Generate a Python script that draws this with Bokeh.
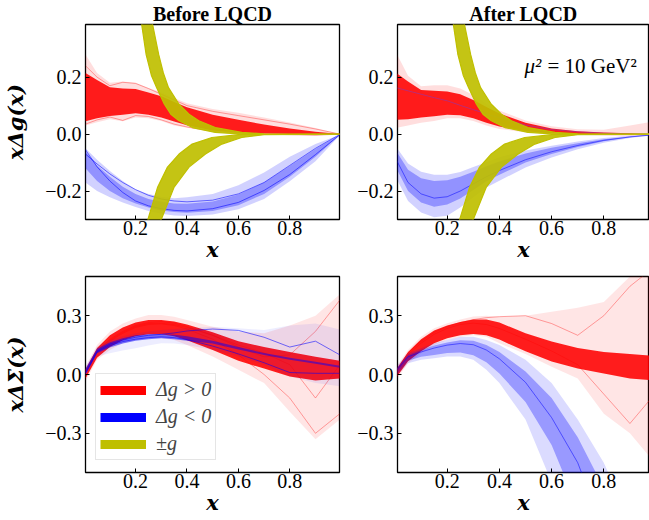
from bokeh.plotting import figure
from bokeh.layouts import column, row
from bokeh.models import Range1d, FixedTicker, Label, Legend, LegendItem
from bokeh.embed import file_html
from bokeh.resources import INLINE

# ---------------- data ----------------
X = [0.005, 0.05, 0.1, 0.15, 0.2, 0.25, 0.3, 0.35, 0.4, 0.5, 0.6, 0.7, 0.8, 0.9, 0.995]
X_TICKS = [0.2, 0.4, 0.6, 0.8]
TOP_Y_TICKS = [-0.2, 0.0, 0.2]
BOT_Y_TICKS = [-0.3, 0.0, 0.3]
TOP_Y_LABELS = {-0.2: "\u22120.2", 0: "0.0", 0.2: "0.2"}
BOT_Y_LABELS = {-0.3: "\u22120.3", 0: "0.0", 0.3: "0.3"}
TITLES = ["Before LQCD", "After LQCD"]
Y_LABELS = ["x\u0394g(x)", "x\u0394\u03a3(x)"]
LEGEND_LABELS = ["\u0394g > 0", "\u0394g < 0", "\u00b1g"]

# x*g band (yellow), upper (+) branch edges
G_UP_L_X = [0.218, 0.222, 0.241, 0.262, 0.282, 0.312, 0.337, 0.369, 0.421, 0.51, 0.6, 0.995]
G_UP_L_Y = [0.45, 0.395, 0.279, 0.205, 0.163, 0.105, 0.07, 0.047, 0.023, 0.006, 0.001, 0.0]
G_UP_R_X = [0.26, 0.264, 0.29, 0.308, 0.328, 0.369, 0.408, 0.446, 0.51, 0.613, 0.7, 0.995]
G_UP_R_Y = [0.45, 0.395, 0.279, 0.215, 0.163, 0.105, 0.07, 0.047, 0.023, 0.006, 0.001, 0.0]
# lower (-) branch edges
G_DN_L_X = [0.24, 0.247, 0.286, 0.324, 0.369, 0.42, 0.497, 0.6, 0.995]
G_DN_L_Y = [-0.33, -0.302, -0.186, -0.116, -0.07, -0.035, -0.012, -0.002, 0.0]
G_DN_R_X = [0.292, 0.299, 0.35, 0.408, 0.472, 0.536, 0.613, 0.7, 0.995]
G_DN_R_Y = [-0.33, -0.302, -0.186, -0.116, -0.07, -0.035, -0.012, -0.002, 0.0]

# top-left: x*Delta g, before LQCD
TL_RED_OUT_HI = [0.28, 0.215, 0.18, 0.185, 0.18, 0.162, 0.147, 0.127, 0.108, 0.088, 0.075, 0.058, 0.041, 0.021, 0.0]
TL_RED_OUT_LO = [0.03, 0.042, 0.052, 0.045, 0.058, 0.056, 0.046, 0.03, 0.022, 0.008, 0.002, 0.0, -0.002, -0.005, 0.0]
TL_RED_CORE_HI = [0.215, 0.19, 0.165, 0.16, 0.158, 0.146, 0.133, 0.113, 0.094, 0.068, 0.05, 0.034, 0.02, 0.008, 0.0]
TL_RED_CORE_LO = [0.045, 0.056, 0.064, 0.068, 0.073, 0.068, 0.058, 0.044, 0.031, 0.013, 0.005, 0.002, 0.0, 0.0, 0.0]
TL_RED_LINES = [
    [0.24, 0.2, 0.17, 0.182, 0.178, 0.16, 0.14, 0.12, 0.1, 0.08, 0.065, 0.05, 0.035, 0.018, 0.0],
    [0.035, 0.05, 0.06, 0.048, 0.065, 0.062, 0.05, 0.035, 0.025, 0.01, 0.003, 0.0, -0.002, -0.004, 0.0],
]
TL_BLUE_OUT_HI = [-0.05, -0.09, -0.13, -0.165, -0.195, -0.21, -0.22, -0.225, -0.222, -0.21, -0.18, -0.135, -0.08, -0.035, -0.002]
TL_BLUE_OUT_LO = [-0.17, -0.2, -0.222, -0.24, -0.256, -0.27, -0.28, -0.286, -0.288, -0.282, -0.264, -0.228, -0.166, -0.095, -0.004]
TL_BLUE_CORE_HI = [-0.06, -0.11, -0.15, -0.185, -0.21, -0.228, -0.238, -0.244, -0.245, -0.237, -0.212, -0.17, -0.112, -0.052, -0.002]
TL_BLUE_CORE_LO = [-0.12, -0.165, -0.2, -0.225, -0.244, -0.258, -0.268, -0.274, -0.276, -0.27, -0.25, -0.21, -0.15, -0.08, -0.003]
TL_BLUE_LINES = [
    [-0.055, -0.115, -0.165, -0.205, -0.235, -0.252, -0.262, -0.268, -0.27, -0.262, -0.24, -0.198, -0.142, -0.072, -0.002],
    [-0.07, -0.105, -0.14, -0.17, -0.195, -0.215, -0.228, -0.235, -0.238, -0.232, -0.21, -0.17, -0.11, -0.05, -0.001],
]

# top-right: x*Delta g, after LQCD
TR_RED_OUT_HI = [0.285, 0.205, 0.168, 0.172, 0.172, 0.16, 0.137, 0.107, 0.083, 0.048, 0.028, 0.017, 0.015, 0.03, 0.045]
TR_RED_OUT_LO = [0.022, 0.03, 0.04, 0.046, 0.056, 0.056, 0.046, 0.03, 0.018, 0.006, 0.0, -0.002, -0.006, -0.008, -0.005]
TR_RED_CORE_HI = [0.215, 0.185, 0.155, 0.152, 0.15, 0.14, 0.12, 0.095, 0.072, 0.04, 0.02, 0.01, 0.006, 0.003, 0.0]
TR_RED_CORE_LO = [0.05, 0.052, 0.058, 0.063, 0.068, 0.066, 0.056, 0.04, 0.027, 0.01, 0.003, 0.0, 0.0, 0.0, 0.0]
TR_MEAN = [0.163, 0.152, 0.14, 0.128, 0.117, 0.101, 0.086, 0.071, 0.057, 0.032, 0.016, 0.008, 0.003, 0.001, 0.0]
TR_BLUE_OUT_HI = [-0.045, -0.103, -0.132, -0.143, -0.143, -0.133, -0.116, -0.099, -0.081, -0.058, -0.041, -0.026, -0.014, -0.006, -0.001]
TR_BLUE_OUT_LO = [-0.155, -0.235, -0.275, -0.292, -0.287, -0.258, -0.222, -0.188, -0.164, -0.117, -0.082, -0.053, -0.03, -0.014, -0.003]
TR_BLUE_CORE_HI = [-0.06, -0.125, -0.155, -0.165, -0.162, -0.15, -0.132, -0.113, -0.096, -0.068, -0.048, -0.032, -0.018, -0.008, -0.001]
TR_BLUE_CORE_LO = [-0.12, -0.2, -0.24, -0.255, -0.247, -0.226, -0.196, -0.166, -0.143, -0.1, -0.07, -0.045, -0.025, -0.011, -0.002]
TR_BLUE_LINES = [
    [-0.09, -0.17, -0.21, -0.225, -0.22, -0.2, -0.175, -0.15, -0.128, -0.09, -0.062, -0.04, -0.022, -0.01, -0.002],
]

# bottom-left: x*Delta Sigma, before LQCD
BL_RED_OUT_HI = [0.04, 0.15, 0.22, 0.26, 0.286, 0.303, 0.303, 0.295, 0.278, 0.244, 0.22, 0.21, 0.25, 0.3, 0.41]
BL_RED_OUT_LO = [-0.036, 0.075, 0.125, 0.16, 0.176, 0.185, 0.185, 0.176, 0.151, 0.092, 0.024, -0.044, -0.19, -0.33, -0.23]
BL_RED_CORE_HI = [0.025, 0.135, 0.2, 0.24, 0.265, 0.278, 0.278, 0.27, 0.255, 0.215, 0.17, 0.14, 0.115, 0.09, 0.07]
BL_RED_CORE_LO = [-0.02, 0.085, 0.14, 0.175, 0.195, 0.205, 0.205, 0.195, 0.175, 0.125, 0.07, 0.03, -0.01, -0.03, -0.02]
BL_RED_LINES = [
    [0.02, 0.12, 0.18, 0.22, 0.25, 0.265, 0.27, 0.262, 0.245, 0.2, 0.14, 0.09, 0.1, 0.22, 0.38],
    [0.01, 0.11, 0.17, 0.21, 0.24, 0.255, 0.258, 0.25, 0.232, 0.18, 0.1, 0.0, -0.12, -0.3, -0.2],
    [0.015, 0.118, 0.175, 0.215, 0.245, 0.26, 0.262, 0.255, 0.24, 0.2, 0.15, 0.11, 0.05, -0.12, 0.05],
]
BL_BLUE_OUT_HI = [0.04, 0.142, 0.176, 0.195, 0.21, 0.22, 0.227, 0.232, 0.236, 0.244, 0.236, 0.227, 0.25, 0.26, 0.23]
BL_BLUE_OUT_LO = [-0.01, 0.092, 0.108, 0.122, 0.134, 0.148, 0.16, 0.158, 0.151, 0.125, 0.092, 0.049, -0.01, -0.044, -0.06]
BL_BLUE_CORE_HI = [0.03, 0.132, 0.165, 0.185, 0.2, 0.205, 0.207, 0.203, 0.195, 0.172, 0.14, 0.11, 0.085, 0.065, 0.045]
BL_BLUE_CORE_LO = [0.0, 0.108, 0.138, 0.158, 0.172, 0.18, 0.185, 0.18, 0.172, 0.158, 0.128, 0.1, 0.075, 0.055, 0.035]
BL_BLUE_LINES = [
    [0.01, 0.12, 0.155, 0.175, 0.19, 0.2, 0.205, 0.212, 0.222, 0.232, 0.225, 0.19, 0.14, 0.17, 0.1],
    [0.005, 0.115, 0.148, 0.168, 0.18, 0.188, 0.192, 0.188, 0.178, 0.145, 0.105, 0.06, 0.01, 0.006, 0.006],
]

# bottom-right: x*Delta Sigma, after LQCD
BR_RED_OUT_HI = [0.04, 0.125, 0.193, 0.236, 0.262, 0.28, 0.296, 0.3, 0.295, 0.3, 0.32, 0.34, 0.37, 0.5, 0.6]
BR_RED_OUT_LO = [-0.027, 0.058, 0.108, 0.151, 0.176, 0.193, 0.2, 0.193, 0.159, 0.105, 0.04, -0.02, -0.2, -0.3, -0.45]
BR_RED_CORE_HI = [0.025, 0.115, 0.18, 0.225, 0.25, 0.268, 0.28, 0.28, 0.265, 0.21, 0.168, 0.135, 0.115, 0.105, 0.095]
BR_RED_CORE_LO = [-0.015, 0.068, 0.118, 0.16, 0.185, 0.2, 0.206, 0.2, 0.178, 0.118, 0.066, 0.03, 0.005, -0.02, -0.03]
BR_RED_LINES = [
    [0.02, 0.11, 0.17, 0.215, 0.245, 0.265, 0.28, 0.29, 0.295, 0.3, 0.26, 0.2, 0.3, 0.45, 0.55],
    [0.01, 0.1, 0.16, 0.205, 0.235, 0.255, 0.262, 0.255, 0.235, 0.18, 0.12, 0.05, -0.1, -0.25, -0.1],
]
BR_BLUE_OUT_HI = [0.04, 0.108, 0.134, 0.159, 0.176, 0.193, 0.193, 0.176, 0.151, 0.075, -0.044, -0.23, -0.45, -0.75, -1.1]
BR_BLUE_OUT_LO = [-0.01, 0.058, 0.075, 0.083, 0.092, 0.092, 0.075, 0.024, -0.044, -0.23, -0.55, -0.95, -1.4, -1.9, -2.4]
BR_BLUE_CORE_HI = [0.03, 0.1, 0.125, 0.148, 0.163, 0.175, 0.172, 0.15, 0.115, 0.015, -0.12, -0.32, -0.58, -0.9, -1.25]
BR_BLUE_CORE_LO = [0.0, 0.07, 0.09, 0.1, 0.11, 0.112, 0.098, 0.062, 0.005, -0.14, -0.36, -0.68, -1.05, -1.5, -2.0]
BR_BLUE_LINES = [
    [0.02, 0.09, 0.115, 0.135, 0.15, 0.158, 0.152, 0.125, 0.08, -0.04, -0.22, -0.45, -0.8, -1.2, -1.6],
]

RED = "#ff0000"
BLUE = "#0000ff"
YEL = "#bfbf00"
SERIF = "Liberation Serif"
MATH = "DejaVu Serif"


def make_fig(w, h, xr, yr, mb, yticks, ylabels, title, ylabel):
    p = figure(width=w, height=h, x_range=Range1d(*xr), y_range=Range1d(*yr),
               output_backend="svg", toolbar_location=None,
               min_border_left=mb[0], min_border_right=mb[1],
               min_border_top=mb[2], min_border_bottom=mb[3])
    p.xgrid.visible = False
    p.ygrid.visible = False
    p.outline_line_color = "black"
    p.outline_line_width = 1.3
    p.outline_line_alpha = 1.0
    for ax, ticks in ((p.xaxis, X_TICKS), (p.yaxis, yticks)):
        ax.ticker = FixedTicker(ticks=ticks)
        ax.major_tick_in = 4
        ax.major_tick_out = 0
        ax.minor_tick_line_color = None
        ax.major_tick_line_color = "black"
        ax.axis_line_color = None
        ax.major_label_text_font = SERIF
        ax.major_label_text_font_size = "20px"
        ax.major_label_text_color = "black"
        ax.major_label_standoff = 4
        ax.axis_label_text_font = MATH
        ax.axis_label_text_font_style = "bold italic"
        ax.axis_label_text_font_size = "21px"
        ax.axis_label_text_color = "black"
    p.xaxis.major_label_standoff = 1
    p.xaxis.axis_label = "x"
    p.xaxis.axis_label_standoff = -1
    p.yaxis.major_label_overrides = ylabels
    if ylabel:
        p.yaxis.axis_label = ylabel
        p.yaxis.axis_label_standoff = 14
    if title:
        p.title.text = title
        p.title.text_font = SERIF
        p.title.text_font_style = "bold"
        p.title.text_font_size = "20px"
        p.title.text_color = "black"
        p.title.align = "center"
        p.title.standoff = 0
    return p


def draw_band(p, color, out_lo, out_hi, core_lo, core_hi, lines, out_a, core_a, line_a):
    p.varea(x=X, y1=out_lo, y2=out_hi, fill_color=color, fill_alpha=out_a)
    for ys in lines:
        p.line(x=X, y=ys, line_color=color, line_alpha=line_a, line_width=1)
    p.varea(x=X, y1=core_lo, y2=core_hi, fill_color=color, fill_alpha=core_a)


def draw_g(p):
    p.patch(x=G_UP_L_X + G_UP_R_X[::-1], y=G_UP_L_Y + G_UP_R_Y[::-1],
            fill_color=YEL, fill_alpha=0.92, line_color=YEL, line_width=1.2)
    p.patch(x=G_DN_L_X + G_DN_R_X[::-1], y=G_DN_L_Y + G_DN_R_Y[::-1],
            fill_color=YEL, fill_alpha=0.92, line_color=YEL, line_width=1.2)


XR_L = (0.005, 0.9935)
XR_R = (0.0096, 0.975)
YR_T = (-0.3, 0.385)
YR_B = (-0.5, 0.5)

# top-left
f1 = make_fig(345, 266, XR_L, YR_T, (82, 6, 23, 47), TOP_Y_TICKS, TOP_Y_LABELS, TITLES[0], Y_LABELS[0])
draw_band(f1, RED, TL_RED_OUT_LO, TL_RED_OUT_HI, TL_RED_CORE_LO, TL_RED_CORE_HI, TL_RED_LINES, 0.13, 0.88, 0.35)
draw_band(f1, BLUE, TL_BLUE_OUT_LO, TL_BLUE_OUT_HI, TL_BLUE_CORE_LO, TL_BLUE_CORE_HI, TL_BLUE_LINES, 0.18, 0.3, 0.55)
draw_g(f1)

# top-right
f2 = make_fig(304, 266, XR_R, YR_T, (52, 0, 23, 47), TOP_Y_TICKS, TOP_Y_LABELS, TITLES[1], None)
draw_band(f2, RED, TR_RED_OUT_LO, TR_RED_OUT_HI, TR_RED_CORE_LO, TR_RED_CORE_HI, [], 0.13, 0.88, 0.35)
f2.line(x=X, y=TR_MEAN, line_color="#7a3ccf", line_alpha=0.5, line_width=1)
draw_band(f2, BLUE, TR_BLUE_OUT_LO, TR_BLUE_OUT_HI, TR_BLUE_CORE_LO, TR_BLUE_CORE_HI, TR_BLUE_LINES, 0.18, 0.3, 0.5)
draw_g(f2)
f2.add_layout(Label(x=0.496, y=0.238, text="\u03bc\u00b2", text_font=SERIF, text_font_style="italic",
                    text_font_size="21px", text_baseline="alphabetic", text_color="black"))
f2.add_layout(Label(x=0.584, y=0.238, text="= 10 GeV\u00b2", text_font=SERIF,
                    text_font_size="21px", text_baseline="alphabetic", text_color="black"))

# bottom-left
f3 = make_fig(345, 254, XR_L, YR_B, (82, 6, 10, 48), BOT_Y_TICKS, BOT_Y_LABELS, None, Y_LABELS[1])
draw_band(f3, RED, BL_RED_OUT_LO, BL_RED_OUT_HI, BL_RED_CORE_LO, BL_RED_CORE_HI, BL_RED_LINES, 0.1, 0.88, 0.35)
draw_band(f3, BLUE, BL_BLUE_OUT_LO, BL_BLUE_OUT_HI, BL_BLUE_CORE_LO, BL_BLUE_CORE_HI, BL_BLUE_LINES, 0.07, 0.5, 0.55)
NAN_Y = [float("nan")] * len(X)
leg_r = [f3.line(x=X, y=NAN_Y, line_color=c, line_width=9) for c in (RED, BLUE, YEL)]
legend = Legend(items=[LegendItem(label=l, renderers=[r]) for l, r in zip(LEGEND_LABELS, leg_r)],
                location=(10, 12), glyph_width=46, glyph_height=22, label_height=22,
                spacing=4, padding=4, margin=0, label_standoff=10,
                label_text_font=SERIF, label_text_font_style="italic",
                label_text_font_size="20px", border_line_color="#cccccc",
                border_line_width=1, background_fill_alpha=0.8)
f3.add_layout(legend, "center")

# bottom-right
f4 = make_fig(304, 254, XR_R, YR_B, (52, 0, 10, 48), BOT_Y_TICKS, BOT_Y_LABELS, None, None)
draw_band(f4, RED, BR_RED_OUT_LO, BR_RED_OUT_HI, BR_RED_CORE_LO, BR_RED_CORE_HI, BR_RED_LINES, 0.1, 0.88, 0.35)
draw_band(f4, BLUE, BR_BLUE_OUT_LO, BR_BLUE_OUT_HI, BR_BLUE_CORE_LO, BR_BLUE_CORE_HI, BR_BLUE_LINES, 0.14, 0.3, 0.5)

layout = column(row(f1, f2), row(f3, f4))
open("out.html", "w").write(file_html(layout, INLINE))
